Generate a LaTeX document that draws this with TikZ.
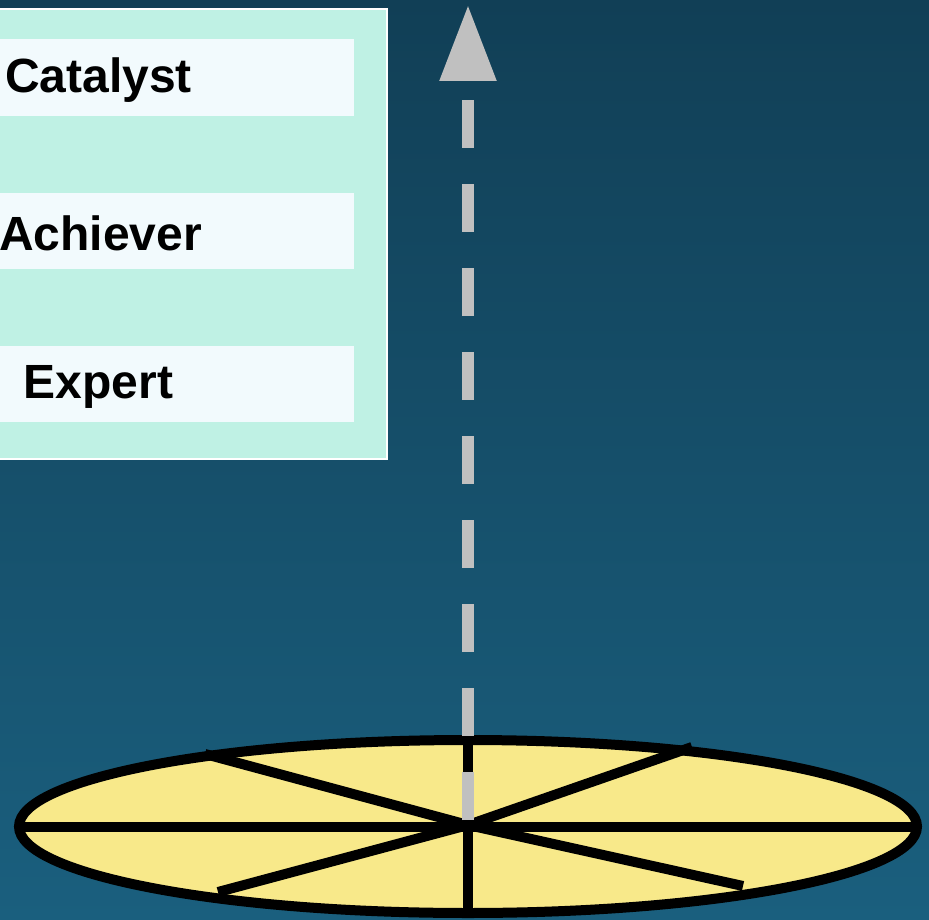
\documentclass[tikz,border=0pt]{standalone}
\usepackage{fontspec}
\setmainfont{Liberation Sans}
\usetikzlibrary{arrows.meta}
\definecolor{bgtop}{RGB}{17,63,86}
\definecolor{bgbot}{RGB}{26,95,126}
\definecolor{panelc}{RGB}{191,241,228}
\definecolor{boxc}{RGB}{242,250,253}
\definecolor{discc}{RGB}{248,233,138}
\definecolor{arrowc}{RGB}{192,192,192}
\tikzset{
  panelbox/.style={fill=panelc, draw=white, line width=2pt},
  levelbox/.style={fill=boxc, draw=none},
  leveltext/.style={font=\bfseries\fontsize{48}{48}\selectfont, text=black, inner sep=0pt, anchor=center},
  spoke/.style={draw=black, line width=10pt},
  disc/.style={fill=discc, draw=black, line width=10pt},
  growth/.style={draw=arrowc, line width=12pt, dash pattern=on 48pt off 36pt,
    -{Triangle[length=76pt,width=54pt,fill=arrowc]}}
}
\begin{document}
\begin{tikzpicture}[x=1pt,y=-1pt]
\shade[top color=bgtop, bottom color=bgbot] (0,0) rectangle (929,920);
\useasboundingbox (0,0) rectangle (929,920);
% panel
\path[panelbox] (-20,9.5) rectangle (387,458.5);
\path[levelbox] (-20,39) rectangle (354,116);
\path[levelbox] (-20,193) rectangle (354,269);
\path[levelbox] (-20,346) rectangle (354,422);
\node[leveltext] (cat) at (98.5,80) {Catalyst};
\node[leveltext] (ach) at (100.5,233) {Achiever};
\node[leveltext] (exp) at (98.5,386.5) {Expert};
% disc
\path[disc] (468,826.5) ellipse [x radius=449, y radius=86.5];
\coordinate (c) at (468,825);
\coordinate (L) at (19,827);
\coordinate (R) at (917,827);
\coordinate (T) at (468,738);
\coordinate (B) at (468,915);
\coordinate (UL) at (205,754);
\coordinate (UR) at (692,747);
\coordinate (LL) at (218,892);
\coordinate (LR) at (743,886);
\draw[spoke] (L) -- (R);
\draw[spoke] (T) -- (B);
\draw[spoke] (UL) -- (c) -- (LR);
\draw[spoke] (UR) -- (c) -- (LL);
% arrow
\coordinate (start) at (468,820);
\coordinate (tip) at (468,5);
\draw[growth] (start) -- (tip);
\end{tikzpicture}
\end{document}
